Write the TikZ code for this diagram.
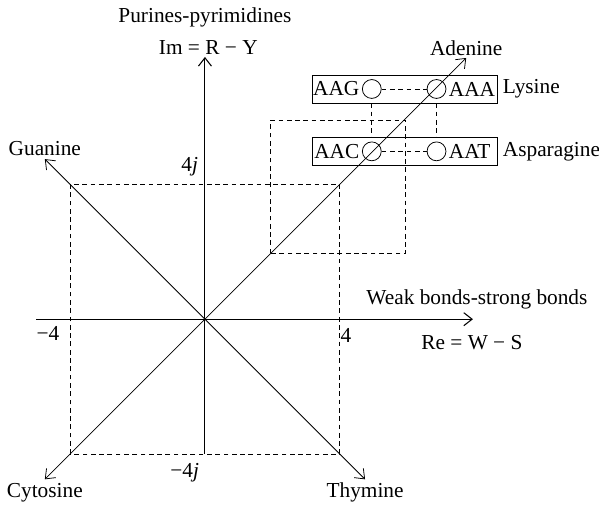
\documentclass[tikz,border=0pt]{standalone}
\usepackage{fontspec}
\setmainfont{Liberation Serif}
\usetikzlibrary{positioning,arrows.meta}

\begin{document}
\begin{tikzpicture}[
    font=\fontsize{18}{21}\selectfont,
    axis/.style={-{Straight Barb[length=7pt,width=11pt]}, line width=0.9pt},
    base/.style={-{Straight Barb[length=7pt,width=11pt]}, line width=0.65pt},
    guide/.style={dashed, dash pattern=on 4pt off 3pt, line width=0.65pt},
    codon/.style={circle, draw, line width=0.65pt, minimum size=0.56cm, inner sep=0pt},
    box/.style={rectangle, draw, line width=0.65pt, minimum width=5.5cm, minimum height=0.83cm, inner sep=0pt},
    lbl/.style={inner sep=1pt}
]
\useasboundingbox (-6.08,-5.61) rectangle (11.69,9.47);

% Axes
\coordinate (O) at (0,0);
\coordinate (xstart) at (-5,0);
\coordinate (xend) at (7.95,0);
\coordinate (ystart) at (0,-4);
\coordinate (yend) at (0,7.78);
\draw[axis] (xstart) -- (xend);
\draw[axis] (ystart) -- (yend);

% Nucleotide diagonals
\coordinate (ade) at (7.75,7.75);
\coordinate (gua) at (-4.75,4.75);
\coordinate (cyt) at (-4.75,-4.75);
\coordinate (thy) at (4.75,-4.75);
\draw[base] (O) -- (ade);
\draw[base] (O) -- (gua);
\draw[base] (O) -- (cyt);
\draw[base] (O) -- (thy);

% Dashed squares
\draw[guide] (-4,-4) rectangle (4,4);
\draw[guide] (1.95,1.95) rectangle (5.95,5.9);

% Codon boxes
\node[box] (lysbox) at (5.93,6.83) {};
\node[box] (asnbox) at (5.93,4.98) {};
\node[codon] (aag) at (4.95,6.83) {};
\node[codon] (aaa) at (6.87,6.83) {};
\node[codon] (aac) at (4.95,4.98) {};
\node[codon] (aat) at (6.87,4.98) {};
\node[lbl, left=1pt of aag] (aagtxt) {AAG};
\node[lbl, right=1pt of aaa] (aaatxt) {AAA};
\node[lbl, left=1pt of aac] (aactxt) {AAC};
\node[lbl, right=1pt of aat] (aattxt) {AAT};
\draw[guide] (aag) -- (aaa);
\draw[guide] (aac) -- (aat);
\draw[guide] (aag |- lysbox.south) -- (aag |- asnbox.north);
\draw[guide] (aaa |- lysbox.south) -- (aaa |- asnbox.north);
\node[lbl, right=3pt of lysbox] (lys) {Lysine};
\node[lbl, right=3pt of asnbox] (asn) {Asparagine};

% Base labels
\node[lbl, above=1pt of ade] (adetxt) {Adenine};
\node[lbl, above=2pt of gua] (guatxt) {Guanine};
\node[lbl, below=2pt of cyt] (cyttxt) {Cytosine};
\node[lbl, below=2pt of thy] (thytxt) {Thymine};

% Axis labels
\node (pylabel) at (0,8.96) {Purines-pyrimidines};
\node (imlabel) at (0.1,8.07) {Im = R − Y};
\node (wslabel) at (8.07,0.59) {Weak bonds-strong bonds};
\node (relabel) at (7.92,-0.68) {Re = W − S};
\node (xneg) at (-4.66,-0.42) {−4};
\node (xpos) at (4.18,-0.47) {4};
\node (ypos) at (-0.45,4.51) {4\textit{j}};
\node (yneg) at (-0.6,-4.54) {−4\textit{j}};

\end{tikzpicture}
\end{document}
